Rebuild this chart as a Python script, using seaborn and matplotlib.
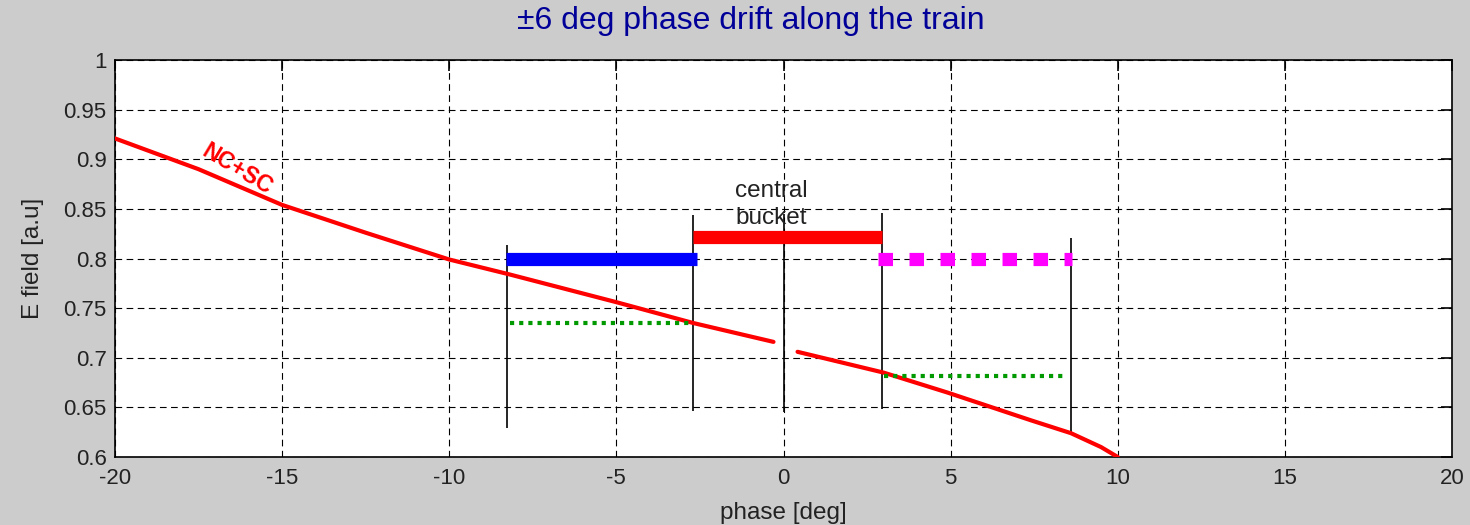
import numpy as np
import pandas as pd
import matplotlib
matplotlib.use("Agg")
import matplotlib.pyplot as plt
import seaborn as sns

# ---- data ----
curve1_x = [-20, -17.5, -15, -12.5, -10, -8.2, -5, -2.7, -0.3]
curve1_y = [0.921, 0.890, 0.854, 0.826, 0.799, 0.784, 0.756, 0.735, 0.716]
curve2_x = [0.42, 3.0, 4.9, 7.4, 8.6, 9.5, 10.0]
curve2_y = [0.706, 0.685, 0.665, 0.637, 0.624, 0.610, 0.600]

marker_x = [-8.27, -2.71, 0.0, 2.95, 8.6]
marker_lo = [0.629, 0.646, 0.645, 0.648, 0.625]
marker_hi = [0.814, 0.844, 0.845, 0.846, 0.821]

blue_seg = [-8.3, -2.59]
blue_y = 0.80
red_seg = [-2.71, 2.95]
red_y = 0.822
magenta_seg = [2.83, 8.63]
magenta_y = 0.80
green1_seg = [-8.18, -2.7]
green1_y = 0.735
green2_seg = [3.0, 8.45]
green2_y = 0.682

xticks = [-20, -15, -10, -5, 0, 5, 10, 15, 20]
yticks = [0.6, 0.65, 0.7, 0.75, 0.8, 0.85, 0.9, 0.95, 1.0]
ytick_labels = ["0.6", "0.65", "0.7", "0.75", "0.8", "0.85", "0.9", "0.95", "1"]

title = "±6 deg phase drift along the train"
xlabel = "phase [deg]"
ylabel = "E field [a.u]"
curve_label = "NC+SC"
bucket_lines = ["central", "bucket"]

# ---- style ----
sns.set_style("white")
plt.rcParams["font.family"] = ["Liberation Sans", "DejaVu Sans"]

fig = plt.figure(figsize=(14.7, 5.25), dpi=100, facecolor="#cccccc")
ax = fig.add_axes([0.0782, 0.1295, 0.9096, 0.7562])
ax.set_facecolor("white")

ax.set_xlim(-20, 20)
ax.set_ylim(0.6, 1.0)
ax.set_xticks(xticks)
ax.set_xticklabels([str(t) for t in xticks])
ax.set_yticks(yticks)
ax.set_yticklabels(ytick_labels)

ax.grid(True, color="black", linestyle=(0, (6, 4)), linewidth=0.8)
ax.set_axisbelow(True)
for s in ax.spines.values():
    s.set_visible(True)
    s.set_color("black")
    s.set_linewidth(1.2)
ax.tick_params(direction="in", length=8, width=1.2, top=True, right=True,
               labelsize=16, colors="black", labelcolor="#222222", pad=6)
ax.tick_params(axis="x", pad=8)

# curve (two pieces)
df1 = pd.DataFrame({"x": curve1_x, "y": curve1_y})
df2 = pd.DataFrame({"x": curve2_x, "y": curve2_y})
sns.lineplot(data=df1, x="x", y="y", ax=ax, color="red", linewidth=3.0, sort=False, zorder=4)
sns.lineplot(data=df2, x="x", y="y", ax=ax, color="red", linewidth=3.0, sort=False, zorder=4)

# vertical markers
ax.vlines(marker_x, marker_lo, marker_hi, colors="black", linewidth=1.2, zorder=3)

# thick bars
ax.plot(blue_seg, [blue_y, blue_y], color="blue", linewidth=9.5, solid_capstyle="butt", zorder=5)
ax.plot(red_seg, [red_y, red_y], color="red", linewidth=9.5, solid_capstyle="butt", zorder=5)
ax.plot(magenta_seg, [magenta_y, magenta_y], color="magenta", linewidth=9.5,
        linestyle=(0, (1.1, 1.25)), dash_capstyle="butt", zorder=5)
ax.plot(green1_seg, [green1_y, green1_y], color="#009900", linewidth=3,
        linestyle=(0, (1, 1.2)), dash_capstyle="butt", zorder=5)
ax.plot(green2_seg, [green2_y, green2_y], color="#009900", linewidth=3,
        linestyle=(0, (1, 1.2)), dash_capstyle="butt", zorder=5)

# annotations
ax.text(-16.35, 0.890, curve_label, color="red", fontsize=16.5, fontweight="bold",
        rotation=-31, ha="center", va="center", zorder=6)
ax.text(-1.45, 0.862, bucket_lines[0], color="#222222", fontsize=17.5,
        ha="left", va="baseline", zorder=6)
ax.text(-1.45, 0.835, bucket_lines[1], color="#222222", fontsize=17.5,
        ha="left", va="baseline", zorder=6)

ax.set_xlabel(xlabel, fontsize=17.5, color="#222222", labelpad=9)
ax.set_ylabel(ylabel, fontsize=17.5, color="#222222", labelpad=14)
fig.text(0.511, 0.960, title, color="#000099", fontsize=23, ha="center", va="center")

fig.savefig("out.png", dpi=100, facecolor=fig.get_facecolor())
